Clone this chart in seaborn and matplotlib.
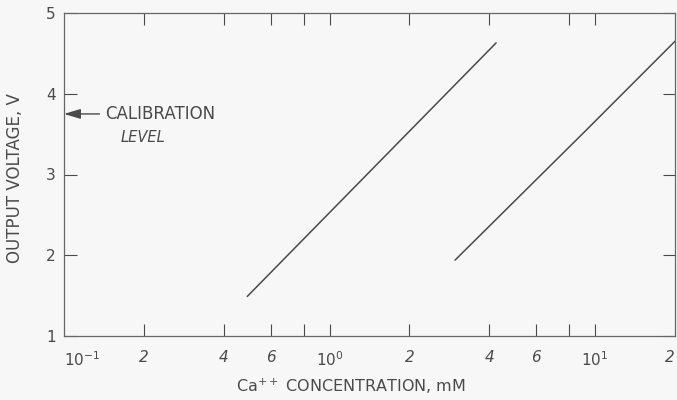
import numpy as np
import pandas as pd
import seaborn as sns
import matplotlib.pyplot as plt
from matplotlib.ticker import FixedLocator, NullFormatter, NullLocator

# two calibration curves (conc in mM, output in V)
conc_a = [0.49, 4.24]
volt_a = [1.49, 4.63]
conc_b = [2.97, 9.33, 20.0]
volt_b = [1.94, 3.56, 4.65]

calib_level = 3.75

xtick_pos = [0.1, 0.2, 0.4, 0.6, 0.8, 1, 2, 4, 6, 8, 10, 20]
xtick_lab = ['$10^{-1}$', '2', '4', '6', '', '$10^{0}$', '2', '4', '6', '', '$10^{1}$', '2']
top_ticks = [0.2, 0.4, 0.6, 0.8, 1, 2, 4, 8, 10]
ytick_pos = [1, 2, 3, 4, 5]

ink = '#4a4a4a'
bg = '#f7f7f7'

sns.set_style("white")
plt.rcParams['font.family'] = ['DejaVu Sans']

df = pd.concat([
    pd.DataFrame({'conc': conc_a, 'volt': volt_a, 'curve': 'a'}),
    pd.DataFrame({'conc': conc_b, 'volt': volt_b, 'curve': 'b'}),
])

fig = plt.figure(figsize=(6.77, 4.0), dpi=100, facecolor=bg)
ax = fig.add_axes([64/677, 1 - 336/400, (675-64)/677, (336-13)/400])
ax.set_facecolor(bg)

sns.lineplot(data=df, x='conc', y='volt', units='curve', estimator=None,
             color=ink, lw=1.1, ax=ax, sort=False)

ax.set_xscale('log')
ax.set_xlim(0.1, 20)
ax.set_ylim(1, 5)

ax.xaxis.set_major_locator(FixedLocator(xtick_pos))
ax.xaxis.set_minor_locator(NullLocator())
ax.set_xticklabels(xtick_lab, fontstyle='italic')
ax.set_yticks(ytick_pos)
ax.set_yticklabels([str(v) for v in ytick_pos])

ax.tick_params(axis='x', which='major', direction='in', length=8.5, width=0.8,
               color=ink, labelcolor=ink, labelsize=11, pad=10, bottom=True)
ax.tick_params(axis='y', which='major', direction='in', length=9, width=0.8,
               color=ink, labelcolor=ink, labelsize=11, pad=6, left=True, right=True)
lbls = ax.get_xticklabels()
lbls[0].set_horizontalalignment('left')
lbls[-1].set_horizontalalignment('right')
# hide the tick marks at axis edges
for t in ax.xaxis.get_major_ticks():
    if t.get_loc() in (0.1, 20):
        t.tick1line.set_visible(False)
        t.tick2line.set_visible(False)

top = ax.secondary_xaxis('top')
top.xaxis.set_major_locator(FixedLocator(top_ticks))
top.xaxis.set_minor_locator(NullLocator())
top.xaxis.set_major_formatter(NullFormatter())
top.tick_params(direction='in', length=8.5, width=0.8, color=ink)
top.spines['top'].set_visible(False)

for s in ax.spines.values():
    s.set_color('#666666')
    s.set_linewidth(0.9)

ax.set_ylabel('OUTPUT VOLTAGE, V', color=ink, fontsize=12)
ax.yaxis.set_label_coords(-0.065, 0.49)
ax.set_xlabel('Ca$^{++}$ CONCENTRATION, mM', color=ink, fontsize=11.5)
ax.xaxis.set_label_coords(0.47, -0.125)

ax.annotate('', xy=(0.1, calib_level), xytext=(0.136, calib_level),
            arrowprops=dict(arrowstyle='-|>,head_length=1.0,head_width=0.3',
                            color=ink, lw=1.0, shrinkA=0, shrinkB=0))
ax.text(0.143, calib_level, 'CALIBRATION', color=ink, fontsize=12, va='center')
ax.text(0.163, calib_level - 0.29, 'LEVEL', color=ink, fontsize=10.5,
        fontstyle='italic', va='center')

fig.savefig('out.png', dpi=100, facecolor=bg)
